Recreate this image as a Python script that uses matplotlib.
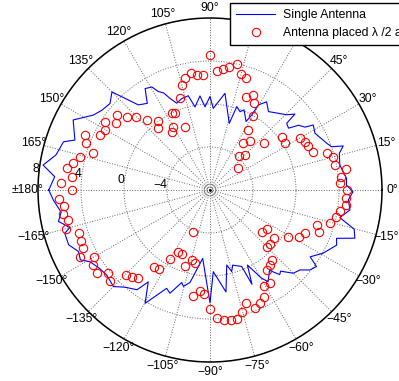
import numpy as np
import matplotlib
matplotlib.use('Agg')
import matplotlib.pyplot as plt

plt.rcParams['font.family'] = ['Liberation Sans', 'DejaVu Sans']

# single antenna pattern (angle in degrees, level)
single_deg = [-180, -176.3, -171.5, -168.3, -165.0, -163.4, -158.8, -154.9, -151.7, -149.1,
              -144.6, -140.5, -135.0, -131.1, -126.2, -123.9, -119.8, -113.8, -111.2, -107.0,
              -105.4, -102.2, -96.1, -90.0, -87.7, -81.1, -77.4, -75.1, -73.2, -67.5,
              -66.0, -63.5, -59.7, -57.6, -53.5, -50.5, -49.0, -45.0, -41.6, -38.7,
              -35.7, -33.7, -29.2, -23.5, -20.9, -18.4, -15.2, -12.0, -8.1, -4.1,
              -0.7, 2.1, 4.9, 7.8, 11.0, 15.8, 18.3, 19.6, 21.8, 23.8,
              28.4, 32.2, 33.5, 36.2, 38.2, 41.0, 41.8, 44.4, 53.3, 57.3,
              60.4, 60.9, 62.2, 67.0, 69.0, 72.2, 73.9, 81.2, 87.7, 90.0,
              93.4, 96.1, 100.2, 103.0, 107.2, 111.0, 113.6, 115.5, 117.7, 119.4,
              122.6, 125.9, 130.1, 132.2, 135.0, 139.1, 143.6, 147.3, 152.9, 159.7,
              161.8, 164.5, 167.2, 171.5, 175.1, 180]
single_r = [7.0, 6.6, 6.0, 6.4, 5.5, 6.1, 6.1, 5.5, 5.7, 5.0,
            4.6, 4.45, 4.7, 4.0, 3.5, 2.3, 4.15, 2.0, 2.3, 1.0,
            1.3, 0.8, -1.6, 2.5, -0.4, 1.6, -0.85, -0.15, -0.7, -0.3,
            1.6, -0.2, 1.5, 2.1, 1.3, 2.2, 2.0, 2.95, 3.2, 3.9,
            4.2, 3.2, 4.05, 4.85, 4.6, 6.2, 5.9, 4.35, 5.15, 4.9,
            5.3, 4.7, 4.75, 4.5, 4.3, 4.5, 5.05, 4.0, 3.7, 3.5,
            3.1, 3.35, 2.6, 2.2, 1.3, 1.45, 2.6, 2.0, 1.1, 1.75,
            1.1, 0.0, -0.8, 0.1, -0.2, 0.15, -1.55, 1.1, -0.4, 0.7,
            -0.25, 0.8, -0.15, 1.0, 0.9, 0.65, 1.3, 2.0, 2.35, 3.0,
            3.2, 1.95, 2.35, 3.3, 4.9, 4.3, 4.5, 4.9, 6.3, 5.4,
            6.35, 6.5, 6.7, 7.7, 6.5, 7.0]

# two antennas spaced lambda/2
pair_deg = [-176.5, -173.7, -170.7, -167.9, -164.8, -161.7, -158.6, -155.6, -152.6, -149.9,
            -147.3, -143.7, -140.9, -137.8, -134.7, -131.9, -129.3, -126.0, -122.7, -119.7,
            -117.0, -113.5, -111.5, -108.0, -104.8, -101.6, -99.2, -95.7, -93.1, -90.0,
            -87.0, -83.9, -81.0, -78.3, -75.4, -72.3, -69.2, -66.2, -63.3, -60.5,
            -57.0, -54.7, -51.3, -48.6, -45.3, -42.1, -39.4, -37.0, -34.1, -31.1,
            -27.6, -24.5, -20.9, -18.2, -15.2, -12.3, -9.3, -6.3, -3.5, -0.2,
            2.9, 5.5, 8.6, 11.5, 15.1, 17.6, 20.3, 24.1, 26.8, 29.9,
            32.2, 36.3, 38.5, 41.2, 45.0, 49.2, 50.8, 54.5, 57.5, 60.0,
            63.3, 65.8, 68.9, 72.1, 75.0, 78.0, 81.1, 84.0, 86.8, 90.0,
            93.6, 96.6, 99.3, 102.6, 105.1, 108.1, 111.6, 114.5, 116.5, 120.5,
            123.3, 126.7, 130.0, 132.1, 135.5, 138.7, 141.2, 144.6, 147.1, 150.3,
            153.4, 156.3, 159.4, 162.6, 165.6, 168.7, 171.2, 174.5, 177.2, 179.8]
pair_r = [6.05, 5.64, 5.83, 5.49, 5.88, 4.81, 4.92, 5.00, 5.62, 4.47,
          4.90, 5.00, 4.20, 4.56, 3.12, 2.91, 2.61, 0.82, 0.73, -0.58,
          -1.50, -1.53, -3.77, -0.61, -1.31, -1.04, 2.02, 1.40, 1.69, 3.10,
          3.95, 4.16, 4.24, 4.23, 3.70, 3.00, 3.78, 3.52, 3.17, 2.24,
          2.26, 1.12, 0.93, 0.68, -0.50, -0.47, -1.80, -0.54, -1.57, 0.51,
          1.38, 1.71, 2.87, 2.43, 3.57, 3.95, 4.23, 4.77, 4.70, 4.70,
          4.11, 4.24, 4.83, 3.82, 3.88, 3.39, 2.25, 1.96, 1.95, 1.66,
          0.25, 0.28, -4.71, -1.32, -3.40, -3.82, -2.11, -2.66, -1.38, -0.05,
          1.10, 1.69, 1.30, 2.92, 3.14, 3.98, 3.55, 3.29, 3.12, 4.56,
          2.72, 2.77, 3.00, 2.65, 2.11, 0.98, -1.69, -0.16, -0.03, -1.16,
          -1.51, 0.04, -0.51, 0.78, 1.65, 2.24, 3.13, 2.72, 3.64, 3.25,
          3.44, 4.70, 4.33, 3.43, 4.48, 4.97, 5.49, 4.92, 5.90, 4.87]

r_ticks = [-4, 0, 4, 8]
r_labels = ['\u22124', '0', '4', '8']
theta_ticks = np.arange(0, 360, 15)
theta_labels = []
for a in theta_ticks:
    if a == 180:
        theta_labels.append('\u00b1180\u00b0')
    elif a > 180:
        theta_labels.append('\u2212%d\u00b0' % (360 - a))
    else:
        theta_labels.append('%d\u00b0' % a)

fs = 8.8
fig = plt.figure(figsize=(3.99, 3.81), dpi=100)
ax = fig.add_axes([38 / 399, 19 / 381, 344 / 399, 344 / 381], projection='polar')

ax.plot(np.deg2rad(single_deg), single_r, '-', color='#0000ff', lw=0.8,
        label='Single Antenna')
ax.plot(np.deg2rad(pair_deg), pair_r, 'o', ls='none', mfc='none', mec='#ff0000',
        ms=6, mew=0.8, label='Antenna placed \u03bb /2 apart')

ax.set_ylim(-8, 8)
ax.set_thetagrids(theta_ticks, theta_labels)
ax.set_rgrids(r_ticks, [''] * len(r_ticks))
ax.grid(True, ls=':', color='0.4', lw=0.7)
ax.spines['polar'].set_linewidth(1.1)
ax.tick_params(axis='x', direction='in', length=4, pad=0.5, labelsize=fs)

# radial labels just inside the rings, MATLAB style
for r, lab in zip(r_ticks, r_labels):
    ax.text(np.deg2rad(173), r, lab, ha='right', va='center', fontsize=fs)

# small ring and dot at the origin
ring = np.linspace(0, 2 * np.pi, 100)
ax.plot(ring, np.full(ring.shape, -7.45), color='0.5', lw=0.6)
ax.plot([0], [-8], '.', color='k', ms=2)

h, l = ax.get_legend_handles_labels()
ax.legend(h[:2], l[:2], loc='upper left', bbox_to_anchor=(230 / 399, 1 - 3 / 381),
          bbox_transform=fig.transFigure, fancybox=False, edgecolor='k',
          framealpha=1, borderaxespad=0, handlelength=3.2, handletextpad=0.6,
          fontsize=fs, labelspacing=0.5, borderpad=0.5)

fig.savefig('out.png', dpi=100)
